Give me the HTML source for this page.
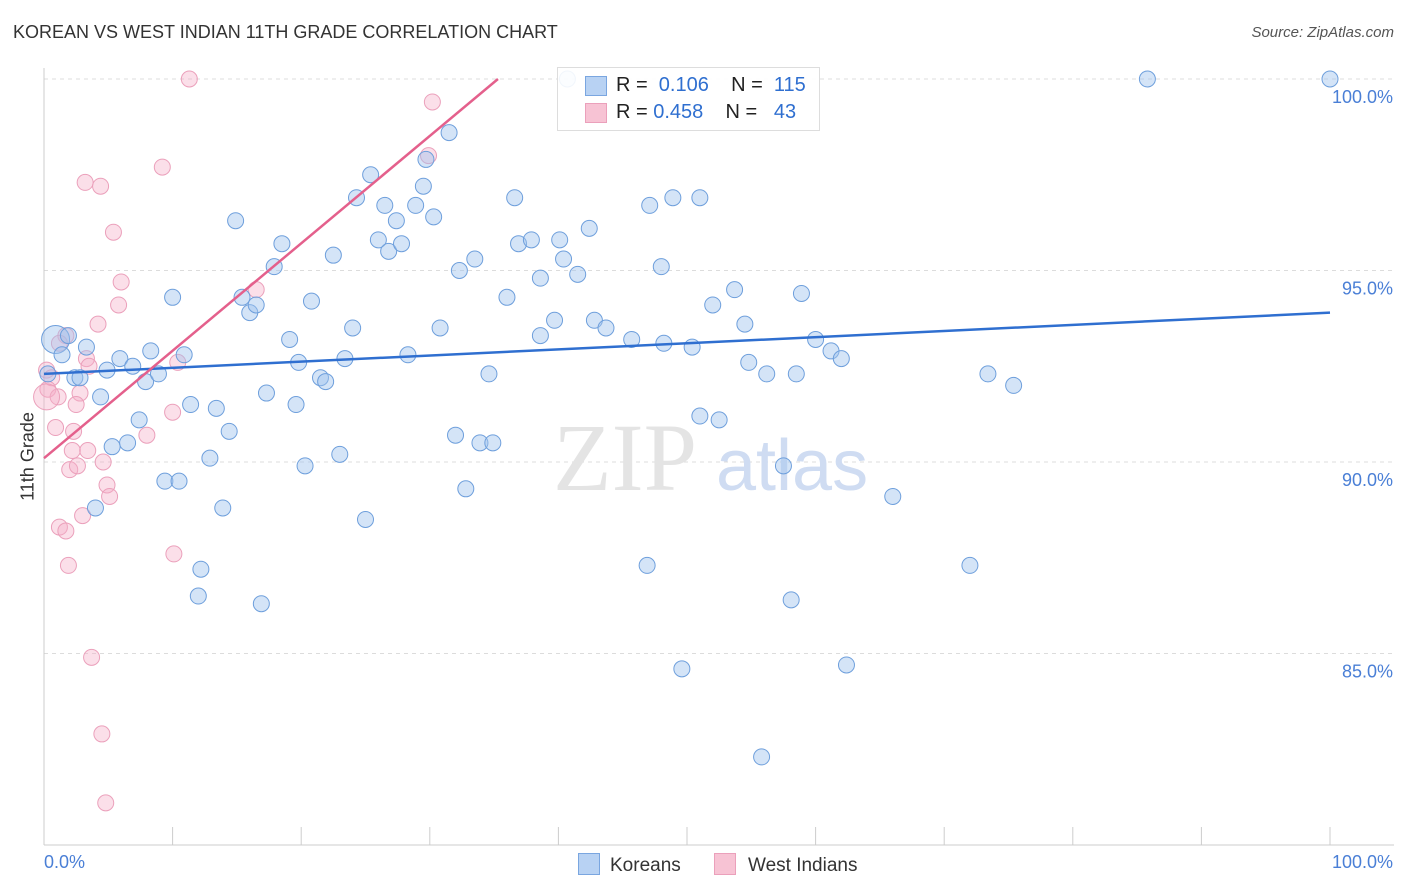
<!DOCTYPE html>
<html><head><meta charset="utf-8">
<style>
body{margin:0;background:#fff;font-family:"Liberation Sans",sans-serif;}
#wrap{position:relative;width:1406px;height:892px;overflow:hidden;}
</style></head>
<body>
<div id="wrap">
<svg id="svg" width="1406" height="892"></svg>
</div>
<script>
const blueX=[0.9,1.9,3.3,1.4,0.3,2.4,2.8,4.4,4.9,5.9,6.9,5.3,6.5,7.4,7.9,8.3,8.9,10.9,10.0,9.4,10.5,4.0,11.4,12.9,13.4,14.4,13.9,12.2,12.0,14.9,15.4,16.0,16.5,16.9,17.3,17.9,18.5,19.1,19.6,19.8,20.3,20.8,21.5,21.9,22.5,23.0,23.4,24.0,24.3,25.0,25.4,26.0,26.5,26.8,27.4,27.8,28.3,28.9,29.5,29.7,30.3,30.8,31.5,32.0,32.3,32.8,33.5,33.9,34.6,34.9,36.0,36.6,36.9,37.9,38.6,38.6,39.7,40.1,40.4,41.5,42.4,42.8,43.7,45.7,46.9,47.1,48.0,48.2,48.9,49.6,50.4,51.0,51.0,52.0,52.5,53.7,54.5,54.8,56.2,57.5,58.1,58.5,58.9,60.0,61.2,62.0,62.4,55.8,66.0,72.0,73.4,75.4,85.8,100,40.7];
const blueY=[93.2,93.3,93.0,92.8,92.3,92.2,92.2,91.7,92.4,92.7,92.5,90.4,90.5,91.1,92.1,92.9,92.3,92.8,94.3,89.5,89.5,88.8,91.5,90.1,91.4,90.8,88.8,87.2,86.5,96.3,94.3,93.9,94.1,86.3,91.8,95.1,95.7,93.2,91.5,92.6,89.9,94.2,92.2,92.1,95.4,90.2,92.7,93.5,96.9,88.5,97.5,95.8,96.7,95.5,96.3,95.7,92.8,96.7,97.2,97.9,96.4,93.5,98.6,90.7,95.0,89.3,95.3,90.5,92.3,90.5,94.3,96.9,95.7,95.8,93.3,94.8,93.7,95.8,95.3,94.9,96.1,93.7,93.5,93.2,87.3,96.7,95.1,93.1,96.9,84.6,93.0,91.2,96.9,94.1,91.1,94.5,93.6,92.6,92.3,89.9,86.4,92.3,94.4,93.2,92.9,92.7,84.7,82.3,89.1,87.3,92.3,92.0,100,100,100];
const pinkX=[11.3,30.2,29.9,9.2,3.2,4.4,5.4,6.0,5.8,4.2,16.5,1.7,1.2,3.3,3.5,10.4,0.2,0.6,0.3,2.8,1.1,0.2,2.5,10.0,0.9,2.3,8.0,2.2,3.4,4.6,2.0,2.6,4.9,5.1,1.2,3.0,1.7,10.1,1.9,3.7,4.5,4.8];
const pinkY=[100,99.4,98.0,97.7,97.3,97.2,96.0,94.7,94.1,93.6,94.5,93.3,93.1,92.7,92.5,92.6,92.4,92.2,91.9,91.8,91.7,91.7,91.5,91.3,90.9,90.8,90.7,90.3,90.3,90.0,89.8,89.9,89.4,89.1,88.3,88.6,88.2,87.6,87.3,84.9,82.9,81.1];
const blueTrend=[0,92.3,100,93.9];
const pinkTrend=[0,90.1,35.3,100];
const yTicks=[100,95,90,85];
const yTickLabels=["100.0%","95.0%","90.0%","85.0%"];

const svg=document.getElementById('svg');
const NS='http://www.w3.org/2000/svg';
const X=v=>44+v*12.86;
const Y=v=>845-(v-80)*38.3;
function mk(t,a,p){const e=document.createElementNS(NS,t);for(const k in a)e.setAttribute(k,a[k]);(p||svg).appendChild(e);return e;}

yTicks.forEach((t,i)=>{
 const g=mk('line',{x1:44,x2:1394,y1:Y(t),y2:Y(t),stroke:'#dcdcdc','stroke-dasharray':'4,4'});
 
 
 const l=mk('text',{x:1393,y:Y(t)+24,'text-anchor':'end','font-size':18,fill:'#4a7fd6'});
 l.textContent=yTickLabels[i];
 
 
});
const ax=mk('line',{x1:44,x2:44,y1:68,y2:845,stroke:'#ccc'});


const bx=mk('line',{x1:44,x2:1394,y1:845,y2:845,stroke:'#ccc'});


for(let i=0;i<=10;i++){
 const t=mk('line',{x1:X(i*10),x2:X(i*10),y1:827,y2:845,stroke:'#ccc'});
 
 
}
const wm=mk('text',{x:553,y:490,'font-size':96,fill:'#e4e4e4','font-family':'Liberation Serif, serif'});
wm.textContent='ZIP';


const wm2=mk('text',{x:716,y:490,'font-size':72,fill:'#cfdcf2'});
wm2.textContent='atlas';



pinkX.forEach((v,i)=>{
 const c=mk('circle',{cx:X(v),cy:Y(pinkY[i]),r:i==21?13:8,fill:'rgba(245,175,200,0.4)',stroke:'#eba0bb','stroke-width':1});
 
 
});
blueX.forEach((v,i)=>{
 const c=mk('circle',{cx:X(v),cy:Y(blueY[i]),r:i==0?14:8,fill:'rgba(160,195,238,0.45)',stroke:'#6e9fdc','stroke-width':1});
 
 
});
const bl=mk('line',{x1:X(blueTrend[0]),y1:Y(blueTrend[1]),x2:X(blueTrend[2]),y2:Y(blueTrend[3]),stroke:'#2f6fd0','stroke-width':2.5});


const pl=mk('line',{x1:X(pinkTrend[0]),y1:Y(pinkTrend[1]),x2:X(pinkTrend[2]),y2:Y(pinkTrend[3]),stroke:'#e4608c','stroke-width':2.5});


</script>
<div style="position:absolute;left:13px;top:22px;font-size:18px;color:#333;">KOREAN VS WEST INDIAN 11TH GRADE CORRELATION CHART</div>
<div style="position:absolute;right:12px;top:24px;font-size:15px;color:#555;font-style:italic;">Source: ZipAtlas.com</div>
<div style="position:absolute;left:-22px;top:446px;font-size:18px;color:#333;transform:rotate(-90deg);transform-origin:center;width:100px;text-align:center;white-space:nowrap;">11th Grade</div>
<div style="position:absolute;left:44px;top:852px;font-size:18px;color:#4a7fd6;">0.0%</div>
<div style="position:absolute;right:13px;top:852px;font-size:18px;color:#4a7fd6;">100.0%</div>
<div style="position:absolute;left:557px;top:67px;width:261px;height:62px;border:1px solid #ddd;background:rgba(255,255,255,0.9);font-size:20px;color:#222;">
 <div style="position:absolute;left:27px;top:8px;width:20px;height:18px;background:#b8d2f3;border:1px solid #7aa6e0;"></div>
 <div style="position:absolute;left:58px;top:6px;white-space:nowrap;">R = <span style="color:#2f6fd0">&nbsp;0.106</span>&nbsp;&nbsp;&nbsp; N = <span style="color:#2f6fd0">&nbsp;115</span></div>
 <div style="position:absolute;left:27px;top:35px;width:20px;height:18px;background:#f7c3d4;border:1px solid #eba0bb;"></div>
 <div style="position:absolute;left:58px;top:33px;white-space:nowrap;">R = <span style="color:#2f6fd0">0.458</span>&nbsp;&nbsp;&nbsp; N = <span style="color:#2f6fd0">&nbsp;&nbsp;43</span></div>
</div>
<div style="position:absolute;left:578px;top:853px;font-size:19px;color:#333;">
 <span style="position:absolute;left:0;top:0;white-space:nowrap;"><span style="display:inline-block;width:20px;height:20px;background:#b8d2f3;border:1px solid #7aa6e0;vertical-align:-4px;margin-right:10px;"></span>Koreans</span>
 <span style="position:absolute;left:136px;top:0;white-space:nowrap;"><span style="display:inline-block;width:20px;height:20px;background:#f7c3d4;border:1px solid #eba0bb;vertical-align:-4px;margin-right:12px;"></span>West Indians</span>
</div>
</body></html>
